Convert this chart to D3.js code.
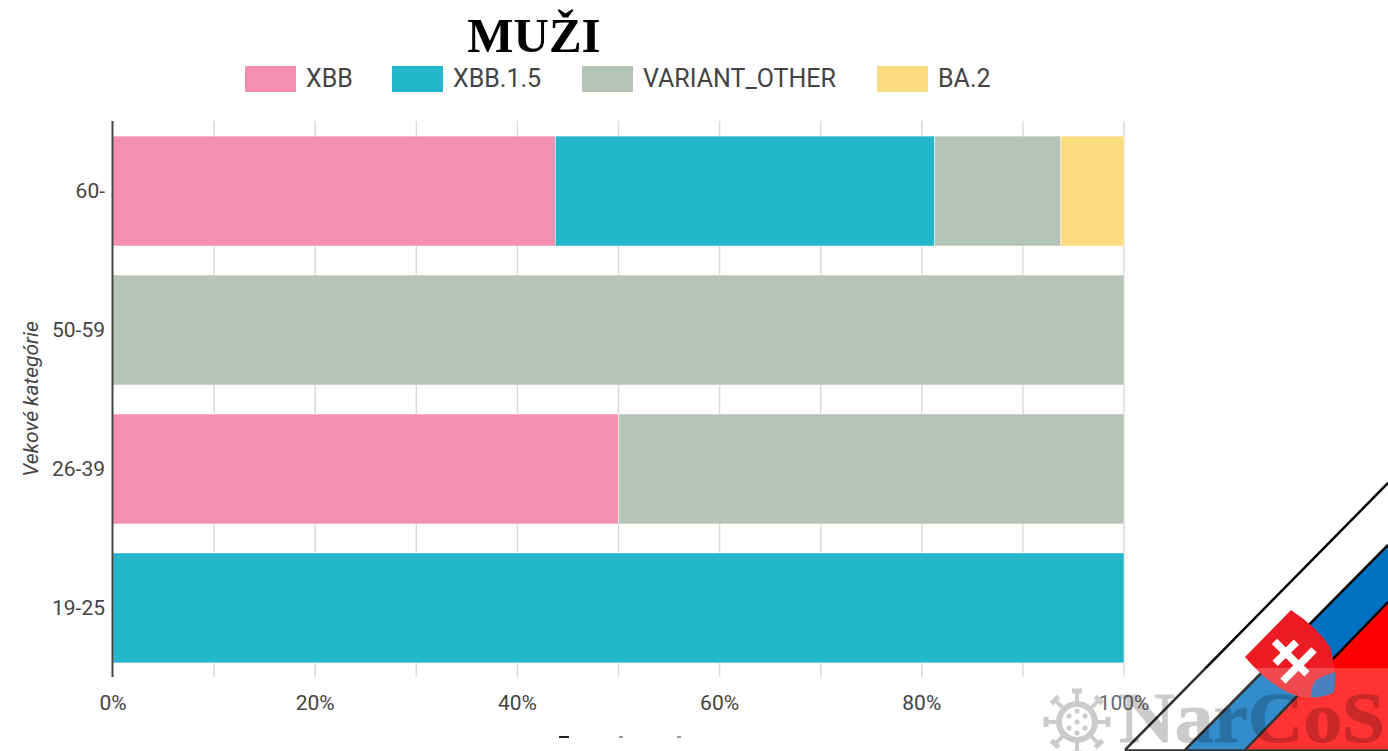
<!DOCTYPE html>
<html><head><meta charset="utf-8">
<script src="https://cdn.jsdelivr.net/npm/d3@7"></script>
<style>html,body{margin:0;padding:0;background:#fff;overflow:hidden}svg{display:block}</style>
</head><body><svg id="c" width="1388" height="751"></svg>
<script>
const categories = ["60-","50-59","26-39","19-25"];
const seriesNames = ["XBB","XBB.1.5","VARIANT_OTHER","BA.2"];
const xbb = [43.75,0,50,0];
const xbb15 = [37.5,0,0,100];
const variantOther = [12.5,100,50,0];
const ba2 = [6.25,0,0,0];
const colors = ["#f48fb1","#24b7cc","#b6c3b8","#fcdc80"];
const xTicks = [0,20,40,60,80,100];
const minorGrid = [10,20,30,40,50,60,70,80,90,100];
const legendWidths = [147,190,295,120];

const svg = d3.select("#c");
const x = d3.scaleLinear().domain([0,100]).range([113,1124]);
const y = d3.scaleBand().domain(categories).range([121.5,677.5]).paddingInner(0.209).paddingOuter(0.105);
const font = "Roboto, sans-serif";
const ink = "#444";

svg.append("g").selectAll("line").data(minorGrid).join("line")
 .attr("x1",d=>x(d)).attr("x2",d=>x(d)).attr("y1",121).attr("y2",677)
 .attr("stroke","#d9d9d9").attr("stroke-width",1.4);

const series = [xbb,xbb15,variantOther,ba2];
const rows = categories.map((c,i)=>{const o={c};seriesNames.forEach((s,k)=>o[s]=series[k][i]);return o;});
const stacked = d3.stack().keys(seriesNames)(rows);
svg.append("g").selectAll("g").data(stacked).join("g").attr("fill",(d,i)=>colors[i])
 .selectAll("rect").data(d=>d.filter(p=>p[1]>p[0])).join("rect")
 .attr("x",d=>x(d[0])).attr("width",d=>x(d[1])-x(d[0]))
 .attr("y",d=>y(d.data.c)).attr("height",y.bandwidth())
 .attr("stroke","#fff").attr("stroke-width",0.8).attr("stroke-opacity",0.6);

svg.append("line").attr("x1",112.5).attr("x2",112.5).attr("y1",121).attr("y2",677).attr("stroke","#444").attr("stroke-width",2);

svg.append("g").selectAll("text").data(categories).join("text")
 .attr("x",105).attr("y",d=>y(d)+y.bandwidth()/2+7).attr("text-anchor","end")
 .attr("font-family",font).attr("font-size",21).attr("fill",ink).text(d=>d);
svg.append("g").selectAll("text").data(xTicks).join("text")
 .attr("x",d=>x(d)).attr("y",710).attr("text-anchor","middle")
 .attr("font-family",font).attr("font-size",21).attr("fill",ink).text(d=>d+"%");
svg.append("text").attr("transform","translate(38,399) rotate(-90)").attr("text-anchor","middle")
 .attr("font-family",font).attr("font-style","italic").attr("font-size",21).attr("fill",ink).text("Vekové kategórie");

// tips of the cut-off horizontal axis title
svg.append("g").selectAll("rect").data([[559,10,"#222"],[619,4,"#999"],[677,4,"#999"]]).join("rect")
 .attr("x",d=>d[0]).attr("y",736).attr("width",d=>d[1]).attr("height",2).attr("fill",d=>d[2]);

let lx = 245;
seriesNames.forEach((s,i)=>{
  svg.append("rect").attr("x",lx).attr("y",66).attr("width",51).attr("height",26).attr("fill",colors[i]);
  svg.append("text").attr("x",lx+61).attr("y",87).attr("font-family",font).attr("font-size",25).attr("fill",ink).text(s);
  lx += legendWidths[i];
});

svg.append("text").attr("x",534).attr("y",52).attr("text-anchor","middle")
 .attr("font-family","'Liberation Serif',serif").attr("font-weight","bold").attr("font-size",49).attr("fill","#000").text("MUŽI");

// flag corner
const pg=(pts,f)=>svg.append("polygon").attr("points",pts).attr("fill",f);
pg("1388,545 1185,750 1245,750 1388,602","#0070c0");
pg("1388,602 1245,750 1388,750","#ff0000");
[[1388,483,1125,750],[1388,545,1185,750],[1388,602,1245,750],[1125,750.5,1388,750.5]].forEach(l=>
 svg.append("line").attr("x1",l[0]).attr("y1",l[1]).attr("x2",l[2]).attr("y2",l[3]).attr("stroke","#000").attr("stroke-width",2.5));
svg.append("path").attr("d","M1291,610 Q1318,628 1330,647 Q1337,672 1334,692 Q1318,700 1302,697 Q1275,692 1245,657 Z").attr("fill","#ed1c24");
svg.append("path").attr("d","M1311,697 Q1311,686 1316,680 Q1325,675 1335,672 Q1336,685 1333,693 Q1322,698 1311,697 Z").attr("fill","#1f5fb0");
const cross = svg.append("g").attr("transform","translate(1290,657) rotate(-45)").attr("stroke","#fff").attr("stroke-width",7.5).attr("fill","none");
[[0,-22,0,24],[-15,-6,15,-6],[-22,12,22,12]].forEach(l=>
 cross.append("line").attr("x1",l[0]).attr("y1",l[1]).attr("x2",l[2]).attr("y2",l[3]));

// watermark
svg.append("rect").attr("x",1041).attr("y",668).attr("width",347).attr("height",83).attr("fill","#fff").attr("opacity",0.2);
svg.append("text").attr("x",1119).attr("y",742).attr("font-family","'Liberation Serif',serif").attr("font-weight","bold").attr("font-size",72).attr("textLength",266).attr("lengthAdjust","spacingAndGlyphs").attr("fill","#000").attr("stroke","#000").attr("stroke-width",1).attr("opacity",0.2).text("NarCoS");
const v = svg.append("g").attr("transform","translate(1077,722)").attr("stroke","#cbcbcb").attr("fill","none");
v.append("circle").attr("r",18).attr("stroke-width",6);
d3.range(0,360,45).forEach(a=>{const g=v.append("g").attr("transform",`rotate(${a})`);
 g.append("line").attr("x1",0).attr("x2",0).attr("y1",-20).attr("y2",-31).attr("stroke-width",4);
 g.append("line").attr("x1",-5).attr("x2",5).attr("y1",-31).attr("y2",-31).attr("stroke-width",5);});
[[0,0],[-8,-6],[8,-6],[-8,6],[8,6],[0,-11],[0,11]].forEach(p=>v.append("circle").attr("cx",p[0]).attr("cy",p[1]).attr("r",2.6).attr("fill","#cbcbcb").attr("stroke","none"));
</script></body></html>
